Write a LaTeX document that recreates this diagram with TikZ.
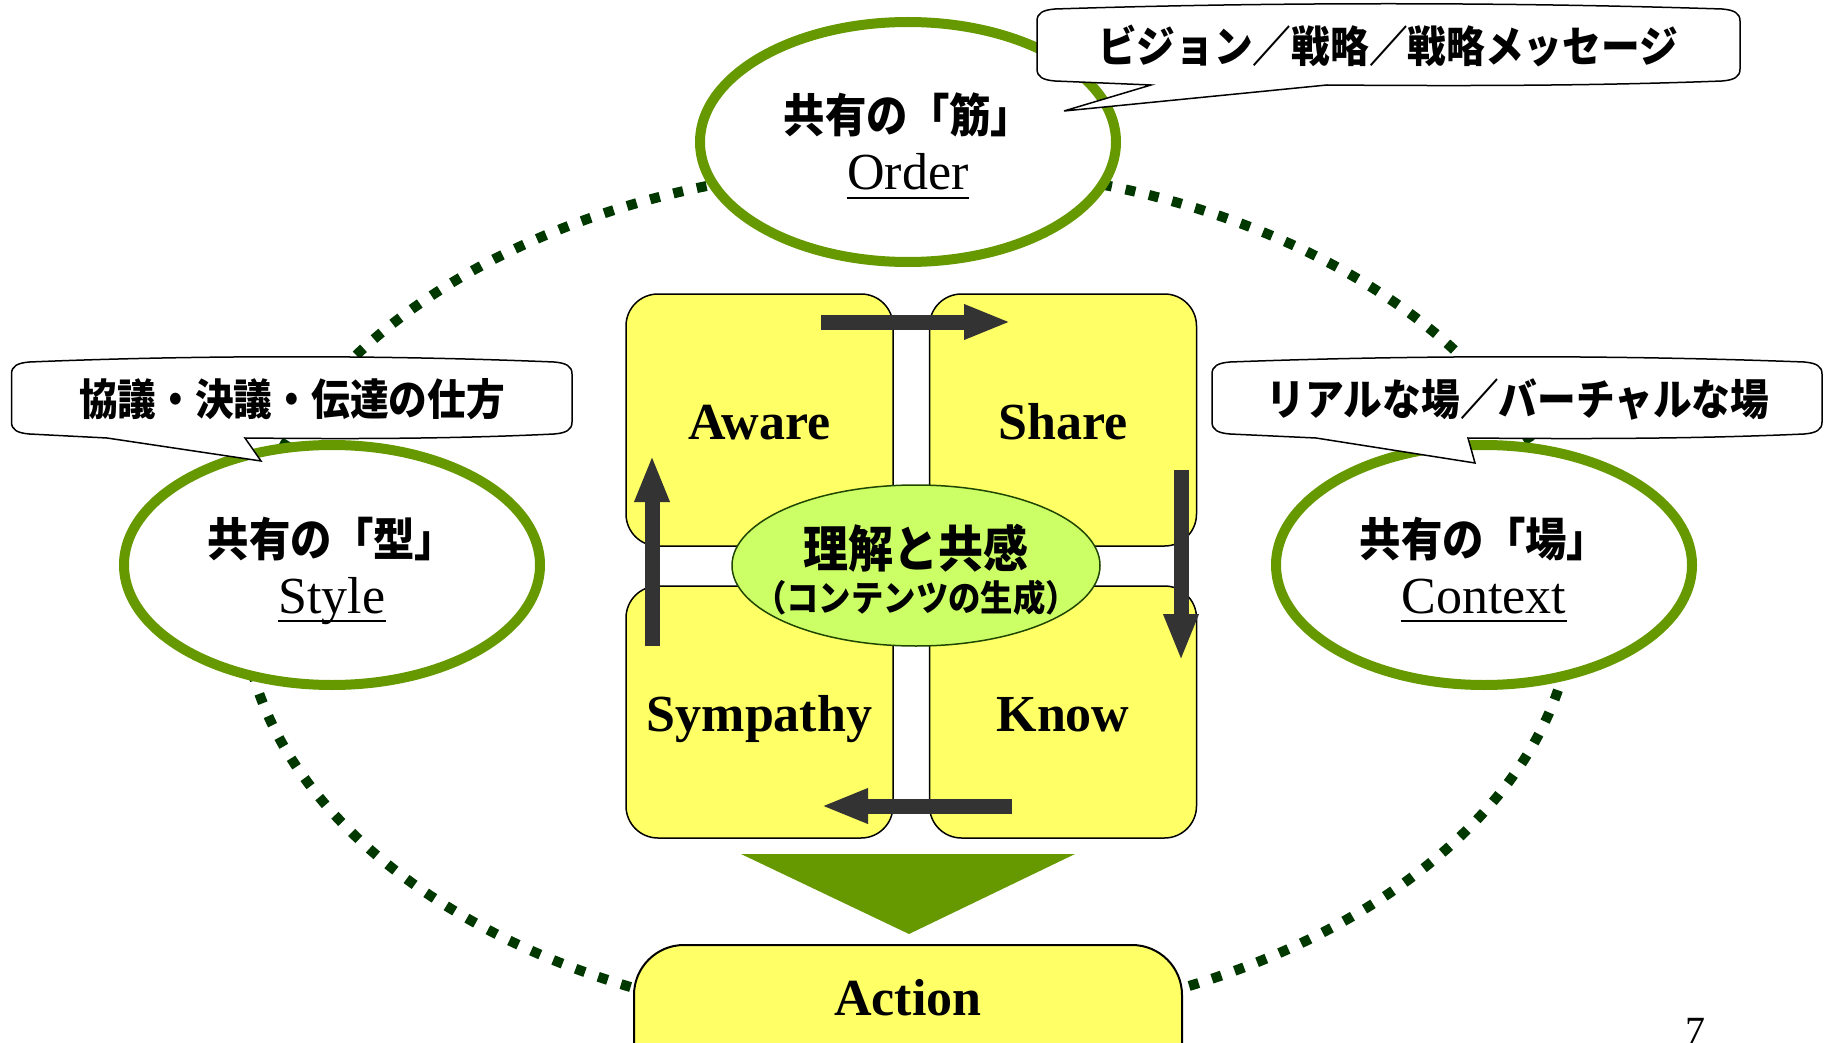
\documentclass[tikz,border=0pt]{standalone}
\usepackage{fontspec}
\setmainfont{Liberation Serif}
\newfontfamily\jpfont{Noto Sans CJK JP}[FakeStretch=0.9]
\usetikzlibrary{shapes.geometric,arrows.meta}
\definecolor{gOlive}{RGB}{102,153,0}
\definecolor{gDot}{RGB}{0,56,0}
\definecolor{yBox}{RGB}{255,255,102}
\definecolor{gCore}{RGB}{204,255,102}
\definecolor{gCoreLine}{RGB}{30,70,0}
\definecolor{aGray}{RGB}{51,51,51}
% #1 x0, #2 y0, #3 x1, #4 y1, #5 base1 x, #6 base2 x, #7 tip x, #8 tip y
\newcommand\mycallout[8]{%
  \draw[calloutbox] (#1,{#2+16}) -- (#1,{#4-16})
    .. controls (#1,{#4-8}) and ({#1+6},{#4-5}) .. ({#1+18},{#4-4})
    -- (#5,#4) -- (#7,#8) -- (#6,#4)
    .. controls ({#6+(#3-18-#6)/3},{#4+1}) and ({#3-18-(#3-18-#6)/3},{#4+1}) .. ({#3-18},{#4-4})
    .. controls ({#3-6},{#4-5}) and (#3,{#4-8}) .. (#3,{#4-16})
    -- (#3,{#2+16})
    .. controls (#3,{#2+8}) and ({#3-6},{#2+5}) .. ({#3-18},{#2+4})
    .. controls ({#3-(#3-#1)/3},{#2-3}) and ({#1+(#3-#1)/3},{#2-3}) .. ({#1+18},{#2+4})
    .. controls ({#1+6},{#2+5}) and (#1,{#2+8}) .. (#1,{#2+16}) -- cycle;}
\tikzset{
  ring/.style={ellipse, draw=gOlive, line width=10pt, fill=white,
    minimum width=416pt, minimum height=240pt, inner sep=0pt},
  jplab/.style={font=\jpfont\bfseries\fontsize{46}{52}\selectfont, inner sep=0pt},
  enlab/.style={font=\fontsize{52}{60}\selectfont, inner sep=0pt, anchor=base},
  uline/.style={line width=2.5pt},
  calloutbox/.style={draw=black, fill=white, line width=1.5pt, line join=miter},
  calltxt/.style={font=\jpfont\bfseries\fontsize{43}{48}\selectfont, inner sep=0pt},
  quad/.style={draw=black, fill=yBox, line width=1.5pt, rounded corners=32pt,
    minimum width=267pt, minimum height=252pt, inner sep=0pt},
  quadlab/.style={font=\bfseries\fontsize{52}{60}\selectfont, inner sep=0pt, anchor=base},
  flow/.style={draw=aGray, line width=15pt, -{Triangle[length=47pt,width=32pt]}},
  dotring/.style={draw=gDot, line width=10pt, dash pattern=on 10pt off 14pt},
}
\begin{document}
\begin{tikzpicture}[x=1pt,y=-1pt]
\path[use as bounding box] (0,0) rectangle (1826,1043);
\clip (0,0) rectangle (1826,1043);

% dotted outer ring
\draw[dotring] (908,596) ellipse [x radius=666, y radius=430];

% three green ellipses
\node[ring] (order) at (908,142) {};
\node[ring] (style) at (332,565) {};
\node[ring] (context) at (1484,565) {};

\node[jplab] (orderJP) at (908,115) {共有の「筋」};
\node[enlab] (orderEN) at (908,190) {Order};
\draw[uline] ([yshift=-8pt]orderEN.base west) -- ([yshift=-8pt]orderEN.base east);

\node[jplab] (styleJP) at (332,539) {共有の「型」};
\node[enlab] (styleEN) at (332,613) {Style};
\draw[uline] ([yshift=-8pt]styleEN.base west) -- ([yshift=-8pt]styleEN.base east);

\node[jplab] (contextJP) at (1484,539) {共有の「場」};
\node[enlab] (contextEN) at (1484,613) {Context};
\draw[uline] ([yshift=-8pt]contextEN.base west) -- ([yshift=-8pt]contextEN.base east);

% callouts
\mycallout{1037}{5}{1740}{85}{1151}{1327}{1064}{111}
\node[calltxt] (callTop) at (1388,46) {ビジョン／戦略／戦略メッセージ};
\mycallout{11.5}{358}{572}{438}{107}{245}{261}{461}
\node[calltxt] (callLeft) at (292,399) {協議・決議・伝達の仕方};
\mycallout{1212}{358}{1822}{438}{1316}{1468}{1475}{463}
\node[calltxt] (callRight) at (1518,399) {リアルな場／バーチャルな場};

% four quadrants
\node[quad] (aware) at (759.5,420) {};
\node[quad] (share) at (1063,420) {};
\node[quad] (sympathy) at (759.5,712) {};
\node[quad] (know) at (1063,712) {};
\node[quadlab] (awareL) at (759.5,439) {Aware};
\node[quadlab] (shareL) at (1063,439) {Share};
\node[quadlab] (sympathyL) at (759.5,731) {Sympathy};
\node[quadlab] (knowL) at (1063,731) {Know};

% cycle arrows
\coordinate (t1) at (821,322);  \coordinate (t2) at (1011,322);
\coordinate (r1) at (1181,470); \coordinate (r2) at (1181,661);
\coordinate (b1) at (1012,806); \coordinate (b2) at (821,806);
\coordinate (l1) at (652,646);  \coordinate (l2) at (652,455);
\draw[flow] (t1) -- (t2);
\draw[flow] (r1) -- (r2);
\draw[flow] (b1) -- (b2);
\draw[flow] (l1) -- (l2);

% core ellipse
\node[ellipse, draw=gCoreLine, fill=gCore, line width=1.5pt,
      minimum width=368pt, minimum height=161pt, inner sep=0pt] (core) at (916,565.5) {};
\node[font=\jpfont\bfseries\fontsize{50}{54}\selectfont, inner sep=0pt] (coreA) at (916,548) {理解と共感};
\node[font=\jpfont\bfseries\fontsize{36}{40}\selectfont, inner sep=0pt] (coreB) at (916,598) {（コンテンツの生成）};

% down triangle
\fill[gOlive] (741,854) -- (1075,854) -- (909,934) -- cycle;

% action
\node[draw=black, fill=yBox, line width=2pt, rounded corners=50pt,
      minimum width=548pt, minimum height=160pt, inner sep=0pt] (action) at (908,1025) {};
\node[quadlab] (actionL) at (908,1015) {Action};

% page number
\node[font=\fontsize{40}{44}\selectfont, inner sep=0pt, anchor=north] (pnum) at (1695,1018) {7};
\end{tikzpicture}
\end{document}
